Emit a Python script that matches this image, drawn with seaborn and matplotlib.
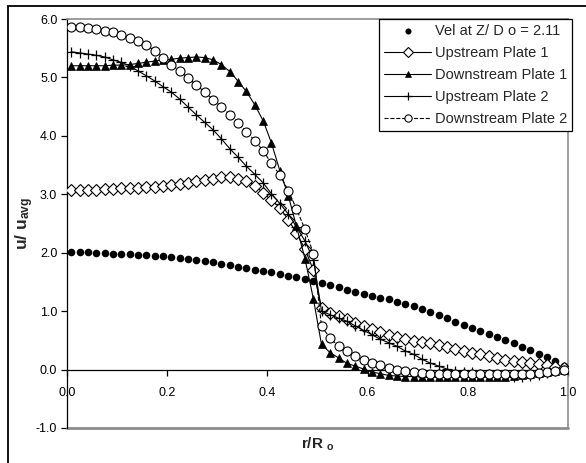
import numpy as np
import pandas as pd
import matplotlib
matplotlib.use("Agg")
import matplotlib.pyplot as plt
from matplotlib.patches import Rectangle
from matplotlib.ticker import FormatStrFormatter
import seaborn as sns

# ---------------- data ----------------
r = [0.008, 0.025, 0.042, 0.058, 0.075, 0.092, 0.108, 0.125, 0.142, 0.158,
     0.175, 0.192, 0.208, 0.225, 0.242, 0.258, 0.275, 0.292, 0.308, 0.325,
     0.342, 0.358, 0.375, 0.392, 0.408, 0.425, 0.442, 0.458, 0.475, 0.492,
     0.508, 0.525, 0.542, 0.558, 0.575, 0.592, 0.608, 0.625, 0.642, 0.658,
     0.675, 0.692, 0.708, 0.725, 0.742, 0.758, 0.775, 0.792, 0.808, 0.825,
     0.842, 0.858, 0.875, 0.892, 0.908, 0.925, 0.942, 0.958, 0.975, 0.992]

vel_z211 = [2.01, 2.01, 2.01, 2.00, 2.00, 1.98, 1.98, 1.97, 1.96, 1.96,
            1.94, 1.94, 1.92, 1.91, 1.89, 1.87, 1.85, 1.84, 1.81, 1.79,
            1.76, 1.73, 1.71, 1.69, 1.67, 1.64, 1.61, 1.58, 1.55, 1.52,
            1.48, 1.44, 1.41, 1.37, 1.33, 1.30, 1.26, 1.23, 1.20, 1.16,
            1.12, 1.08, 1.04, 0.99, 0.94, 0.88, 0.82, 0.77, 0.72, 0.66,
            0.61, 0.55, 0.50, 0.45, 0.39, 0.33, 0.27, 0.21, 0.14, 0.06]

upstream_p1 = [3.08, 3.08, 3.08, 3.08, 3.09, 3.09, 3.10, 3.10, 3.11, 3.12,
               3.13, 3.14, 3.16, 3.18, 3.20, 3.22, 3.25, 3.27, 3.29, 3.29,
               3.27, 3.23, 3.15, 3.02, 2.90, 2.77, 2.56, 2.34, 2.06, 1.70,
               1.05, 0.97, 0.91, 0.86, 0.80, 0.75, 0.69, 0.64, 0.59, 0.55,
               0.52, 0.49, 0.47, 0.45, 0.42, 0.39, 0.36, 0.32, 0.29, 0.26,
               0.23, 0.20, 0.17, 0.15, 0.13, 0.11, 0.09, 0.07, 0.05, 0.02]

downstream_p1 = [5.20, 5.20, 5.20, 5.20, 5.20, 5.21, 5.21, 5.22, 5.24, 5.26,
                 5.28, 5.30, 5.31, 5.33, 5.34, 5.35, 5.34, 5.30, 5.22, 5.10,
                 4.93, 4.76, 4.53, 4.25, 3.88, 3.40, 2.97, 2.45, 1.90, 1.20,
                 0.43, 0.29, 0.20, 0.11, 0.06, 0.01, -0.04, -0.07, -0.10, -0.11,
                 -0.12, -0.12, -0.13, -0.13, -0.13, -0.13, -0.13, -0.13, -0.13, -0.13,
                 -0.13, -0.12, -0.12, -0.11, -0.10, -0.08, -0.06, -0.04, -0.02, 0.00]

upstream_p2 = [5.44, 5.42, 5.40, 5.38, 5.35, 5.30, 5.26, 5.20, 5.11, 5.03,
               4.94, 4.84, 4.75, 4.63, 4.49, 4.36, 4.23, 4.10, 3.95, 3.78,
               3.63, 3.48, 3.34, 3.19, 3.01, 2.84, 2.66, 2.44, 2.20, 1.88,
               1.00, 0.94, 0.88, 0.83, 0.75, 0.67, 0.60, 0.52, 0.46, 0.40,
               0.32, 0.26, 0.18, 0.11, 0.06, 0.01, -0.02, -0.04, -0.05, -0.07,
               -0.08, -0.10, -0.11, -0.12, -0.12, -0.11, -0.09, -0.06, -0.03, 0.00]

downstream_p2 = [5.86, 5.86, 5.85, 5.83, 5.80, 5.77, 5.73, 5.68, 5.62, 5.55,
                 5.46, 5.34, 5.22, 5.11, 4.99, 4.87, 4.75, 4.62, 4.50, 4.36,
                 4.22, 4.07, 3.92, 3.74, 3.53, 3.33, 3.06, 2.75, 2.40, 1.98,
                 0.74, 0.54, 0.40, 0.31, 0.23, 0.17, 0.12, 0.07, 0.03, 0.00,
                 -0.03, -0.05, -0.06, -0.07, -0.07, -0.07, -0.07, -0.07, -0.07, -0.07,
                 -0.07, -0.07, -0.07, -0.07, -0.07, -0.07, -0.06, -0.05, -0.03, -0.01]

labels = ["Vel at Z/ D o = 2.11", "Upstream Plate 1", "Downstream Plate 1",
          "Upstream Plate 2", "Downstream Plate 2"]
x_ticks = [0.0, 0.2, 0.4, 0.6, 0.8, 1.0]
y_ticks = [-1.0, 0.0, 1.0, 2.0, 3.0, 4.0, 5.0, 6.0]

# ---------------- style ----------------
sns.set_style("white")
plt.rcParams['font.family'] = ['Liberation Sans', 'DejaVu Sans']
plt.rcParams['mathtext.fontset'] = 'custom'
plt.rcParams['mathtext.rm'] = 'Liberation Sans'
plt.rcParams['mathtext.bf'] = 'Liberation Sans:bold'
plt.rcParams['mathtext.it'] = 'Liberation Sans:italic'

fig = plt.figure(figsize=(5.86, 4.63), dpi=100)
W, H = 586, 463
ax = fig.add_axes([67 / W, 1 - 428 / H, (568 - 67) / W, (428 - 19) / H])

sns.scatterplot(x=r, y=vel_z211, ax=ax, marker='o', s=30, color='black',
                edgecolor='black', linewidth=0, label=labels[0], zorder=3)
sns.lineplot(x=r, y=upstream_p1, ax=ax, color='black', lw=0.8, marker='D',
             markersize=6.2, markerfacecolor='white', markeredgecolor='black',
             markeredgewidth=0.8, label=labels[1], sort=False, estimator=None, zorder=4)
sns.lineplot(x=r, y=downstream_p1, ax=ax, color='black', lw=0.8, marker='^',
             markersize=6.2, markerfacecolor='black', markeredgecolor='black',
             markeredgewidth=0.5, label=labels[2], sort=False, estimator=None, zorder=4)
sns.lineplot(x=r, y=upstream_p2, ax=ax, color='black', lw=0.8, marker='+',
             markersize=7.5, markeredgewidth=0.9, markeredgecolor='black',
             label=labels[3], sort=False, estimator=None, zorder=4)
sns.lineplot(x=r, y=downstream_p2, ax=ax, color='black', lw=0.8, linestyle='--',
             marker='o', markersize=6.5, markerfacecolor='white', markeredgecolor='black',
             markeredgewidth=0.8, label=labels[4], sort=False, estimator=None, zorder=4)

ax.set_xlim(0, 1.0)
ax.set_ylim(-1.0, 6.0)
ax.set_xticks(x_ticks)
ax.set_yticks(y_ticks)
ax.xaxis.set_major_formatter(FormatStrFormatter('%.1f'))
ax.yaxis.set_major_formatter(FormatStrFormatter('%.1f'))

# spines
ax.spines['bottom'].set_position(('data', 0.0))
ax.spines['bottom'].set_color('black')
ax.spines['bottom'].set_linewidth(0.9)
ax.spines['left'].set_color('black')
ax.spines['left'].set_linewidth(0.9)
for s in ['top', 'right']:
    ax.spines[s].set_color('#8c8c8c')
    ax.spines[s].set_linewidth(1.2)
ax.axhline(-1.0, color='#8c8c8c', lw=2.0, zorder=1, clip_on=False)

ax.tick_params(axis='both', which='major', direction='out', length=4, width=0.9,
               labelsize=9, colors='black', pad=3, bottom=True, left=True)
ax.tick_params(axis='x', pad=8.5)

ax.set_xlabel(r'$\mathbf{r/R\ _o}$', fontsize=11)
ax.xaxis.set_label_coords(0.5, -0.018)
ax.set_ylabel(r'$\mathbf{u/\ u_{avg}}$', fontsize=12.5)
ax.yaxis.set_label_coords(-0.062, 0.5)

leg = ax.legend(loc='upper right', bbox_to_anchor=(572 / W, 1 - 19 / H),
                bbox_transform=fig.transFigure, frameon=True, fancybox=False,
                edgecolor='black', framealpha=1, fontsize=10.5, handlelength=3.2,
                handletextpad=0.25, labelspacing=0.55, borderpad=0.35,
                borderaxespad=0, markerscale=0.8)
leg.get_frame().set_linewidth(0.9)

# outer chart-area frame (clipped at right/bottom like the reference)
fig.add_artist(Rectangle((8 / W, -0.05), 1.2, 1 - 6 / H + 0.05,
                         transform=fig.transFigure, fill=False,
                         edgecolor='black', linewidth=1.3))

fig.savefig('out.png', dpi=100)
